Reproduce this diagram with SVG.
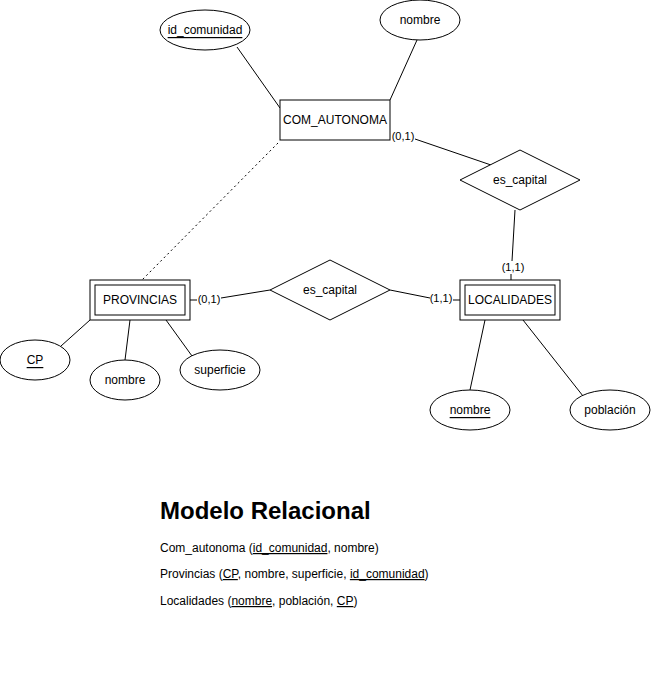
<svg xmlns="http://www.w3.org/2000/svg" width="651" height="681" viewBox="0 0 651 681">
<style>
.s{fill:#fff;stroke:#000;stroke-width:1}
.l{stroke:#000;stroke-width:1;fill:none}
.t{font-family:"Liberation Sans",Arial,sans-serif;font-size:12px;fill:#000;text-anchor:middle;dominant-baseline:central}
.c{font-family:"Liberation Sans",Arial,sans-serif;font-size:11px;fill:#000;text-anchor:middle;dominant-baseline:central}
.b{font-family:"Liberation Sans",Arial,sans-serif;font-size:12px;fill:#000}
.u{text-decoration:underline}
</style>
<rect width="651" height="681" fill="#fff"/>
<g id="connectors">
<line class="l" x1="237" y1="47" x2="280" y2="108"/>
<line class="l" x1="417" y1="40" x2="390" y2="100"/>
<line class="l" x1="415" y1="139" x2="491" y2="165"/>
<line class="l" x1="515" y1="210" x2="512" y2="261"/>
<line class="l" x1="511" y1="274" x2="511" y2="280"/>
<line class="l" x1="278" y1="143" x2="142" y2="280" stroke-dasharray="2 3"/>
<line class="l" x1="190" y1="300" x2="197" y2="300"/>
<line class="l" x1="221" y1="298" x2="270" y2="290"/>
<line class="l" x1="390" y1="290" x2="430" y2="298"/>
<line class="l" x1="453" y1="300" x2="460" y2="300"/>
<line class="l" x1="90" y1="320" x2="61" y2="346"/>
<line class="l" x1="130" y1="320" x2="125" y2="360"/>
<line class="l" x1="166" y1="320" x2="192" y2="356"/>
<line class="l" x1="485" y1="320" x2="470" y2="390"/>
<line class="l" x1="523" y1="320" x2="583" y2="396"/>
<text class="c" x="403" y="136">(0,1)</text>
<text class="c" x="513" y="267">(1,1)</text>
<text class="c" x="209" y="299">(0,1)</text>
<text class="c" x="441" y="298">(1,1)</text>
</g>
<g id="com_autonoma">
<rect class="s" x="280" y="100" width="110" height="40"/>
<text class="t" x="335" y="120">COM_AUTONOMA</text>
</g>
<g id="id_comunidad">
<ellipse class="s" cx="205" cy="30" rx="45" ry="20"/>
<text class="t u" x="205" y="30">id_comunidad</text>
</g>
<g id="nombre_ca">
<ellipse class="s" cx="420" cy="20" rx="40" ry="20"/>
<text class="t" x="420" y="20">nombre</text>
</g>
<g id="es_capital_1">
<polygon class="s" points="520,150 580,180 520,210 460,180"/>
<text class="t" x="520" y="180">es_capital</text>
</g>
<g id="es_capital_2">
<polygon class="s" points="330,260 390,290 330,320 270,290"/>
<text class="t" x="330" y="290">es_capital</text>
</g>
<g id="provincias">
<rect class="s" x="90" y="280" width="100" height="40"/>
<rect class="s" x="95" y="285" width="90" height="30"/>
<text class="t" x="140" y="300">PROVINCIAS</text>
</g>
<g id="localidades">
<rect class="s" x="460" y="280" width="100" height="40"/>
<rect class="s" x="465" y="285" width="90" height="30"/>
<text class="t" x="510" y="300">LOCALIDADES</text>
</g>
<g id="cp">
<ellipse class="s" cx="35" cy="360" rx="35" ry="20"/>
<text class="t u" x="35" y="360">CP</text>
</g>
<g id="nombre_prov">
<ellipse class="s" cx="125" cy="380" rx="35" ry="20"/>
<text class="t" x="125" y="380">nombre</text>
</g>
<g id="superficie">
<ellipse class="s" cx="220" cy="370" rx="40" ry="20"/>
<text class="t" x="220" y="370">superficie</text>
</g>
<g id="nombre_loc">
<ellipse class="s" cx="470" cy="410" rx="40" ry="20"/>
<text class="t u" x="470" y="410">nombre</text>
</g>
<g id="poblacion">
<ellipse class="s" cx="610" cy="410" rx="40" ry="20"/>
<text class="t" x="610" y="410">población</text>
</g>
<g id="modelo_relacional">
<text x="160" y="519" style="font-family:'Liberation Sans',Arial,sans-serif;font-size:24px;font-weight:bold;fill:#000">Modelo Relacional</text>
<text class="b" x="160" y="552">Com_autonoma (<tspan class="u">id_comunidad</tspan>, nombre)</text>
<text class="b" x="160" y="578">Provincias (<tspan class="u">CP</tspan>, nombre, superficie, <tspan class="u">id_comunidad</tspan>)</text>
<text class="b" x="160" y="605">Localidades (<tspan class="u">nombre</tspan>, población, <tspan class="u">CP</tspan>)</text>
</g>
</svg>
